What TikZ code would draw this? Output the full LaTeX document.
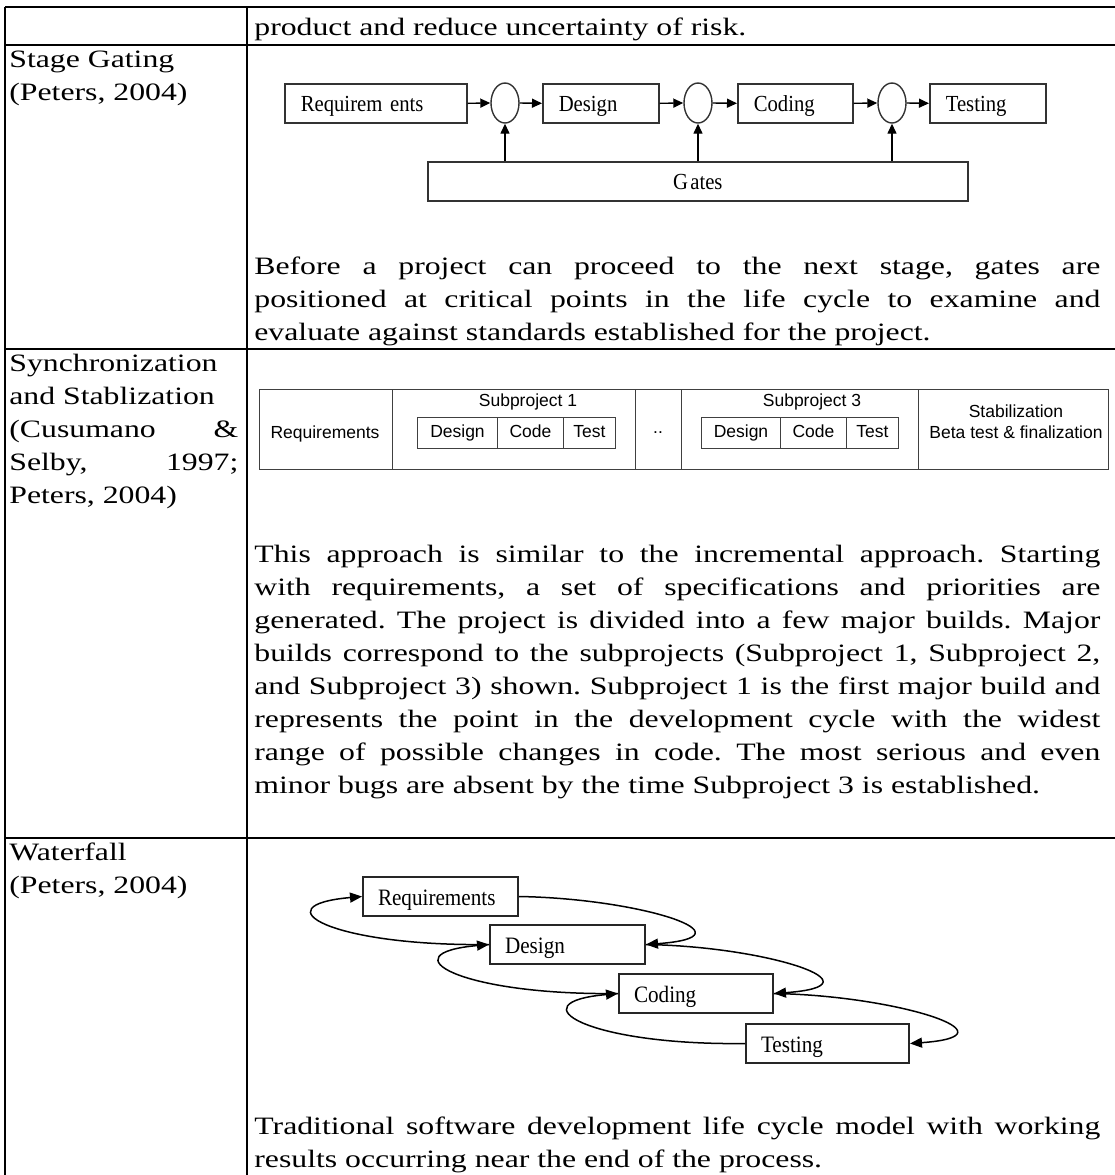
\documentclass[tikz,border=0pt]{standalone}
\usepackage{fontspec}
\setmainfont{Liberation Serif}[FakeStretch=1.27]
\newfontfamily\dgfont{Liberation Serif}[FakeStretch=0.9]
\newfontfamily\arialf{Liberation Sans}
\usetikzlibrary{arrows.meta,shapes.geometric}
\newcommand\jline[1]{\hbox to 423pt{#1}}
\newcommand\lline[1]{\hbox to 114.5pt{#1}}
\frenchspacing
\begin{document}
\begin{tikzpicture}[x=0.5pt,y=-0.5pt,
  tline/.style={line width=1.4pt},
  body/.style={anchor=base west,inner sep=0pt,font=\fontsize{12.5}{16.5}\selectfont},
  gbox/.style={draw=black!80,line width=0.8pt,anchor=north west,minimum height=19.5pt,inner ysep=0pt,inner xsep=8pt,align=left,text height=8.2pt,text depth=0pt,font=\dgfont\fontsize{11.5}{13}\selectfont},
  gcirc/.style={draw=black!80,line width=0.7pt,ellipse,minimum width=14pt,minimum height=20pt,inner sep=0pt},
  garr/.style={line width=0.7pt,-{Triangle[length=5pt,width=4.5pt]}},
  scell/.style={draw=black!75,line width=0.5pt,anchor=north west,inner sep=0pt,minimum height=40pt},
  sin/.style={draw=black!75,line width=0.5pt,anchor=north west,inner sep=0pt,minimum height=15.5pt,text height=6.4pt,text depth=1.8pt,font=\arialf\fontsize{8.75}{10}\selectfont},
  stxt/.style={inner sep=0pt,font=\arialf\fontsize{8.75}{10}\selectfont},
  wbox/.style={draw=black!85,line width=1pt,anchor=north west,minimum height=19.5pt,inner ysep=0pt,inner xsep=7.5pt,align=left,text height=9pt,text depth=0pt,font=\dgfont\fontsize{11.75}{13}\selectfont},
  warr/.style={line width=0.75pt,-{Triangle[length=6pt,width=5pt]}}
]
\useasboundingbox (0,0) rectangle (1115,1175);
% table rules
\draw[tline] (5,7) -- (1115,7);
\draw[tline] (5,45) -- (1115,45);
\draw[tline] (5,349) -- (1115,349);
\draw[tline] (5,838) -- (1115,838);
\draw[tline] (5,7) -- (5,1175);
\draw[tline] (247,7) -- (247,1175);

% left column
\node[body] (l1) at (9,67) {Stage Gating};
\node[body] (l2) at (9,100) {(Peters, 2004)};
\node[body] (l3) at (9,371) {Synchronization};
\node[body] (l4) at (9,404) {and Stablization};
\node[body] (l5) at (9,437) {\lline{(Cusumano \&}};
\node[body] (l6) at (9,470) {\lline{Selby, 1997;}};
\node[body] (l7) at (9,503) {Peters, 2004)};
\node[body] (l8) at (9,860) {Waterfall};
\node[body] (l9) at (9,893) {(Peters, 2004)};

% right column text
\node[body] (r0) at (254,35) {product and reduce uncertainty of risk.};
\node[body] (g1) at (254,274) {\jline{Before a project can proceed to the next stage, gates are}};
\node[body] (g2) at (254,307) {\jline{positioned at critical points in the life cycle to examine and}};
\node[body] (g3) at (254,340) {evaluate against standards established for the project.};
\node[body] (s1) at (254,562) {\jline{This approach is similar to the incremental approach. Starting}};
\node[body] (s2) at (254,595) {\jline{with requirements, a set of specifications and priorities are}};
\node[body] (s3) at (254,628) {\jline{generated. The project is divided into a few major builds. Major}};
\node[body] (s4) at (254,661) {\jline{builds correspond to the subprojects (Subproject 1, Subproject 2,}};
\node[body] (s5) at (254,694) {\jline{and Subproject 3) shown. Subproject 1 is the first major build and}};
\node[body] (s6) at (254,727) {\jline{represents the point in the development cycle with the widest}};
\node[body] (s7) at (254,760) {\jline{range of possible changes in code. The most serious and even}};
\node[body] (s8) at (254,793) {minor bugs are absent by the time Subproject 3 is established.};
\node[body] (w1) at (254,1134) {\jline{Traditional software development life cycle model with working}};
\node[body] (w2) at (254,1167) {results occurring near the end of the process.};

% stage gating diagram
\node[gbox,text width=75pt] (gR) at (284,83) {Requirem ents};
\node[gcirc] (c1) at (505,103) {};
\node[gbox,text width=42pt] (gD) at (542,83) {Design};
\node[gcirc] (c2) at (698,103) {};
\node[gbox,text width=41.5pt] (gC) at (737,83) {Coding};
\node[gcirc] (c3) at (892,103) {};
\node[gbox,text width=42pt] (gT) at (929,83) {Testing};
\node[gbox,text width=254pt,align=center] (gG) at (427,161) {G\hspace{1.2pt}ates};
\draw[garr] (gR.east) -- (c1.west);
\draw[garr] (c1.east) -- (gD.west);
\draw[garr] (gD.east) -- (c2.west);
\draw[garr] (c2.east) -- (gC.west);
\draw[garr] (gC.east) -- (c3.west);
\draw[garr] (c3.east) -- (gT.west);
\draw[garr] (c1 |- gG.north) -- (c1.south);
\draw[garr] (c2 |- gG.north) -- (c2.south);
\draw[garr] (c3 |- gG.north) -- (c3.south);

% synchronization diagram
\node[scell,minimum width=66.5pt] (k1) at (259,389) {};
\node[scell,minimum width=121.5pt] (k2) at (392,389) {};
\node[scell,minimum width=23pt] (k3) at (635,389) {};
\node[scell,minimum width=118.5pt] (k4) at (681,389) {};
\node[scell,minimum width=95pt] (k5) at (918,389) {};
\node[stxt] (kreq) at (325,434) {Requirements};
\node[stxt,anchor=base] (ksp1) at (528,406) {Subproject 1};
\node[stxt,anchor=base] (ksp3) at (812,406) {Subproject 3};
\node[stxt] (kdots) at (658,433) {..};
\node[stxt,anchor=base] (kst1) at (1016,417) {Stabilization};
\node[stxt,anchor=base] (kst2) at (1016,438) {Beta test \& finalization};
\node[sin,minimum width=40pt] (i1a) at (417,417) {Design};
\node[sin,minimum width=33pt] (i1b) at (497,417) {Code};
\node[sin,minimum width=26pt] (i1c) at (563,417) {Test};
\node[sin,minimum width=39.5pt] (i3a) at (701,417) {Design};
\node[sin,minimum width=33pt] (i3b) at (780,417) {Code};
\node[sin,minimum width=26pt] (i3c) at (846,417) {Test};

% waterfall diagram
\node[wbox,text width=62.5pt] (wr) at (362,876) {Requirements};
\node[wbox,text width=62.5pt] (wd) at (489,924) {Design};
\node[wbox,text width=62pt] (wc) at (618,973) {Coding};
\node[wbox,text width=66.5pt] (wt) at (745,1023) {Testing};
\draw[warr] (wr.east) .. controls +(123,2) and +(111,-8) .. (wd.east);
\draw[warr] (wd.east) .. controls +(123,2) and +(111,-8) .. (wc.east);
\draw[warr] (wc.east) .. controls +(123,2) and +(111,-8) .. (wt.east);
\draw[warr] (wd.west) .. controls +(-159,2) and +(-102,9) .. (wr.west);
\draw[warr] (wc.west) .. controls +(-159,2) and +(-102,9) .. (wd.west);
\draw[warr] (wt.west) .. controls +(-159,2) and +(-102,9) .. (wc.west);
\end{tikzpicture}
\end{document}
